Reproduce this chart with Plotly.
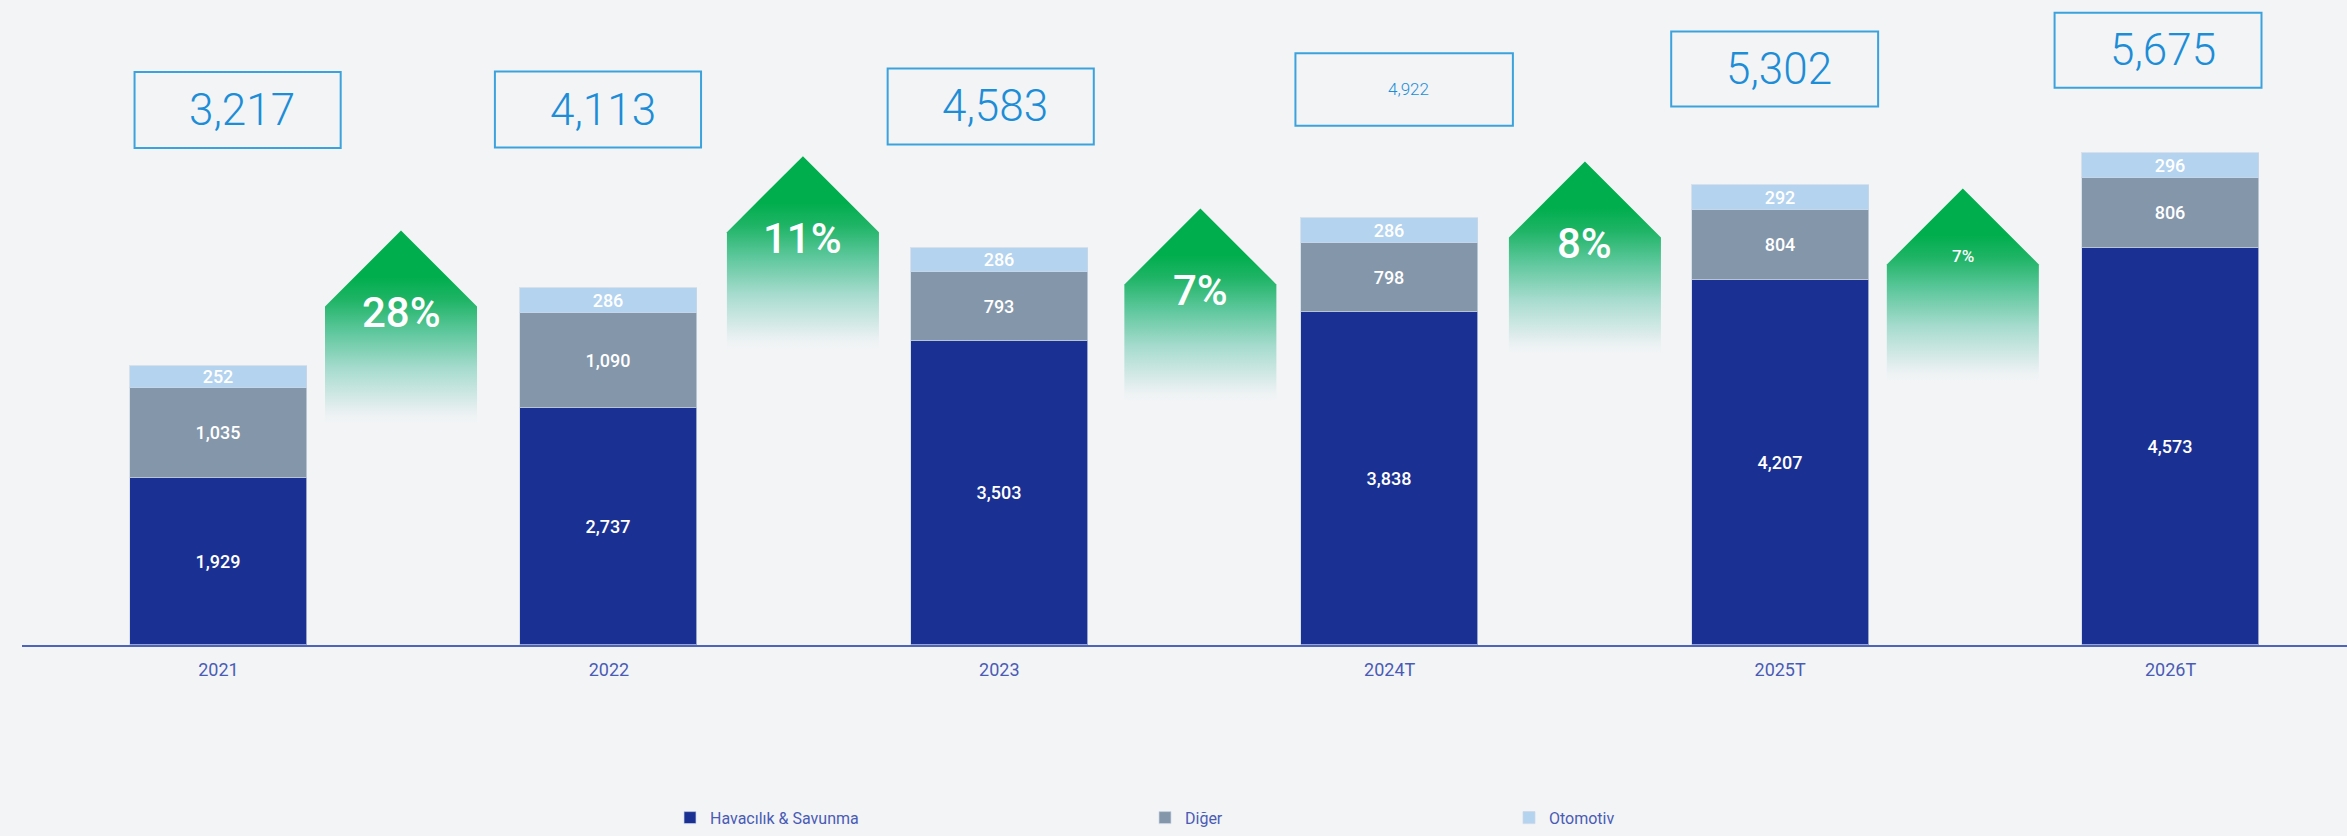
import plotly.graph_objects as go

# ---------------- data ----------------
categories = ["2021", "2022", "2023", "2024T", "2025T", "2026T"]
havacilik = [1929, 2737, 3503, 3838, 4207, 4573]
diger = [1035, 1090, 793, 798, 804, 806]
otomotiv = [252, 286, 286, 286, 292, 296]
totals = [3217, 4113, 4583, 4922, 5302, 5675]
growth = [28, 11, 7, 8, 7]

series_names = ["Havacılık & Savunma", "Diğer", "Otomotiv"]

# ---------------- layout constants (positions / styles) ----------------
BG = "#f2f4f6"
COL_HAV = "#1a3193"
COL_DIG = "#8496aa"
COL_OTO = "#b3d3ef"
AXIS_COL = "#4f63b8"
TEXT_BLUE = "#4a5bb5"
TOTAL_COL = "#1c8dd6"
BOX_COL = "#3ba2dd"

PX_PER_UNIT = 0.08673          # vertical pixels per data unit
Y_MAX = 645 / PX_PER_UNIT      # plot area height 645 px

# growth arrows: horizontal centers (category units) and apex heights (data units)
arrow_cx = [0.4675, 1.497, 2.515, 3.500, 4.468]
arrow_apex = [4779, 5636, 5033, 5575, 5264]
arrow_font = [42, 42, 42, 42, 17]
ARROW_HW = 0.1947
ARROW_HEAD = 76 / PX_PER_UNIT
ARROW_LEN = 193 / PX_PER_UNIT
ARROW_LABEL_OFF = 82 / PX_PER_UNIT

# total boxes: centers (category units / data units)
box_cx = [0.049, 0.972, 1.978, 3.037, 3.986, 4.968]
box_cy = [6169, 6174, 6209, 6405, 6642, 6857]
box_w = [0.528, 0.528, 0.528, 0.557, 0.530, 0.530]
box_h = [876, 876, 876, 837, 865, 865]
box_font = [44, 44, 44, 17, 44, 44]

fig = go.Figure()

# ---------------- growth arrows (drawn first, behind) ----------------
grad = [
    [0.0, "rgba(238,243,244,0.0)"],
    [0.08, "#e3eeee"],
    [0.28, "#a8dccf"],
    [0.48, "#5cc79b"],
    [0.64, "#1fb466"],
    [0.76, "#00ae4d"],
    [1.0, "#00ae4d"],
]
for cx, apex in zip(arrow_cx, arrow_apex):
    shoulder = apex - ARROW_HEAD
    bottom = apex - ARROW_LEN
    fig.add_trace(go.Scatter(
        x=[cx - ARROW_HW, cx - ARROW_HW, cx, cx + ARROW_HW, cx + ARROW_HW, cx - ARROW_HW],
        y=[bottom, shoulder, apex, shoulder, bottom, bottom],
        mode="lines", line=dict(width=0),
        fill="toself",
        fillgradient=dict(type="vertical", colorscale=grad, start=bottom, stop=apex),
        showlegend=False, hoverinfo="skip",
    ))

# ---------------- stacked bars ----------------
bar_cfg = [
    (havacilik, COL_HAV, series_names[0], "legend"),
    (diger, COL_DIG, series_names[1], "legend2"),
    (otomotiv, COL_OTO, series_names[2], "legend3"),
]
xs = list(range(len(categories)))
for vals, col, name, lg in bar_cfg:
    fig.add_trace(go.Bar(
        x=xs, y=vals, name=name, legend=lg,
        marker=dict(color=col, line=dict(width=1, color="rgba(205,215,232,0.7)")),
        width=0.453,
        text=[f"{v:,}" for v in vals],
        textposition="inside", insidetextanchor="middle", textangle=0,
        constraintext="none",
        textfont=dict(family="Roboto", size=18, color="white", weight=500),
        hoverinfo="skip",
    ))

# ---------------- annotations ----------------
annotations = []
for cx, apex, g, fs in zip(arrow_cx, arrow_apex, growth, arrow_font):
    off = ARROW_LABEL_OFF if fs > 20 else 68 / PX_PER_UNIT
    annotations.append(dict(
        x=cx, y=apex - off, xref="x", yref="y",
        text=f"{g}%", showarrow=False,
        font=dict(family="Roboto", size=fs, color="white", weight=500),
        xanchor="center", yanchor="middle",
    ))

shapes = []
for cx, cy, w, h, t, fs in zip(box_cx, box_cy, box_w, box_h, totals, box_font):
    shapes.append(dict(
        type="rect", xref="x", yref="y",
        x0=cx - w / 2, x1=cx + w / 2, y0=cy - h / 2, y1=cy + h / 2,
        line=dict(color=BOX_COL, width=2), fillcolor="rgba(0,0,0,0)",
    ))
    annotations.append(dict(
        x=cx + 0.012, y=cy, xref="x", yref="y",
        text=f"{t:,}", showarrow=False,
        font=dict(family="Roboto", size=fs, color=TOTAL_COL, weight=300),
        xanchor="center", yanchor="middle",
    ))

legend_common = dict(
    orientation="h", xref="container", yref="container",
    yanchor="middle", xanchor="left", y=1 - 817.7 / 836,
    bgcolor="rgba(0,0,0,0)",
    font=dict(family="Roboto", size=16, color=TEXT_BLUE),
)

fig.update_layout(
    width=2347, height=836,
    paper_bgcolor=BG, plot_bgcolor=BG,
    margin=dict(l=22, r=0, t=0, b=191),
    barmode="stack",
    bargap=0.0,
    showlegend=True,
    legend=dict(x=670 / 2347, **legend_common),
    legend2=dict(x=1145 / 2347, **legend_common),
    legend3=dict(x=1509 / 2347, **legend_common),
    xaxis=dict(
        range=[-0.5033, 5.452],
        tickmode="array", tickvals=xs, ticktext=categories,
        showline=True, linecolor=AXIS_COL, linewidth=2,
        showgrid=False, zeroline=False, ticks="",
        tickfont=dict(family="Roboto", size=18, color=TEXT_BLUE),
        ticklabelstandoff=7,
        fixedrange=True,
    ),
    yaxis=dict(
        range=[0, Y_MAX], visible=False, showgrid=False, zeroline=False,
        fixedrange=True,
    ),
    uniformtext=dict(minsize=18, mode="show"),
    shapes=shapes,
    annotations=annotations,
    font=dict(family="Roboto"),
)

fig.write_html(
    "out.html",
    config={"displayModeBar": False},
    post_script="document.body.style.margin='0';document.body.style.overflow='hidden';"
                "document.body.style.background='" + BG + "';",
)
